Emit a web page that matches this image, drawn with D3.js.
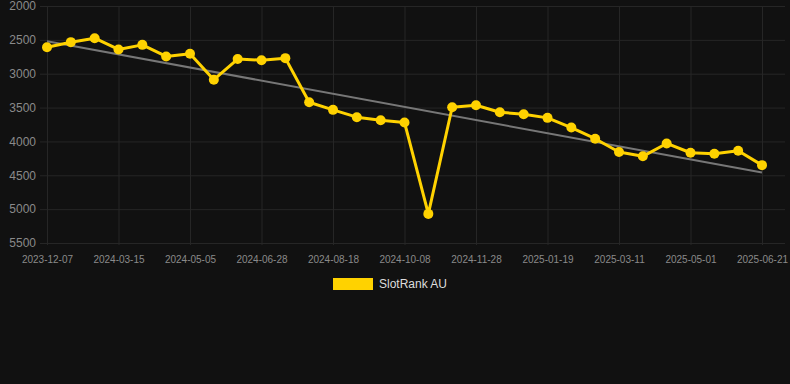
<!DOCTYPE html>
<html><head><meta charset="utf-8">
<script src="https://cdn.jsdelivr.net/npm/d3@7/dist/d3.min.js"></script>
<style>html,body{margin:0;padding:0;background:#111111;}svg{display:block;}</style>
</head><body><svg id="c" width="790" height="384"></svg>
<script>
const dates = ["2023-12-07","2024-01-09","2024-02-11","2024-03-15","2024-04-01","2024-04-18","2024-05-05","2024-05-23","2024-06-10","2024-06-28","2024-07-15","2024-08-01","2024-08-18","2024-09-04","2024-09-21","2024-10-08","2024-10-25","2024-11-11","2024-11-28","2024-12-15","2025-01-01","2025-01-19","2025-02-05","2025-02-22","2025-03-11","2025-03-28","2025-04-14","2025-05-01","2025-05-18","2025-06-04","2025-06-21"];
const ranks = [2610,2534,2475,2642,2574,2745,2706,3088,2784,2800,2770,3422,3534,3642,3686,3720,5070,3495,3466,3569,3598,3652,3795,3960,4157,4220,4030,4167,4181,4137,4350];
const trendStart = 2520, trendEnd = 4460;
const yTicks = [2000,2500,3000,3500,4000,4500,5000,5500];
const seriesName = "SlotRank AU";

(function () {
const svg = d3.select("#c");
const pL = 47, pR = 762, pT = 6, pB = 243;
const x = d3.scalePoint().domain(dates).range([pL, pR]);
const y = d3.scaleLinear().domain([2000, 5500]).range([pT, pB]);
const grid = "#262626";
const font = "Liberation Sans, Arial, sans-serif";

// horizontal grid
const yAxis = d3.axisLeft(y).tickValues(yTicks).tickSize(-(785 - 40)).tickPadding(4).tickFormat(d3.format("d"));
const gy = svg.append("g").attr("transform", "translate(40,0)").call(yAxis);
gy.select(".domain").remove();
gy.selectAll(".tick line").attr("stroke", grid);
gy.selectAll(".tick text").attr("fill", "#8a8a8a").attr("font-family", font).attr("font-size", 12).attr("x", -4);

// vertical grid
const xTickVals = dates.filter((d, i) => i % 3 === 0);
const xAxis = d3.axisBottom(x).tickValues(xTickVals).tickSize(-(pB - pT)).tickPadding(10);
const gx = svg.append("g").attr("transform", `translate(0,${pB})`).call(xAxis);
gx.select(".domain").remove();
gx.selectAll(".tick line").attr("stroke", grid).attr("y2", -(pB - pT)).attr("y1", 2);
gx.selectAll(".tick text").attr("fill", "#8a8a8a").attr("font-family", font).attr("font-size", 10).attr("dy", "0.35em").attr("y", 16);

// trend line
svg.append("line")
  .attr("x1", x(dates[0])).attr("y1", y(trendStart))
  .attr("x2", x(dates[dates.length - 1])).attr("y2", y(trendEnd))
  .attr("stroke", "#777777").attr("stroke-width", 2);

const color = "#FFD200";
const line = d3.line().x((d, i) => x(dates[i])).y(d => y(d));
svg.append("path").datum(ranks).attr("d", line).attr("fill", "none").attr("stroke", color).attr("stroke-width", 3).attr("stroke-linejoin", "round");
svg.selectAll("circle.pt").data(ranks).enter().append("circle").attr("class", "pt")
  .attr("cx", (d, i) => x(dates[i])).attr("cy", d => y(d)).attr("r", 5).attr("fill", color);

// legend
svg.append("rect").attr("x", 333).attr("y", 278).attr("width", 40).attr("height", 12).attr("fill", color);
svg.append("text").attr("x", 379).attr("y", 284).attr("dy", "0.35em").attr("fill", "#dddddd")
  .attr("font-family", font).attr("font-size", 12).text(seriesName);
})();
</script></body></html>
